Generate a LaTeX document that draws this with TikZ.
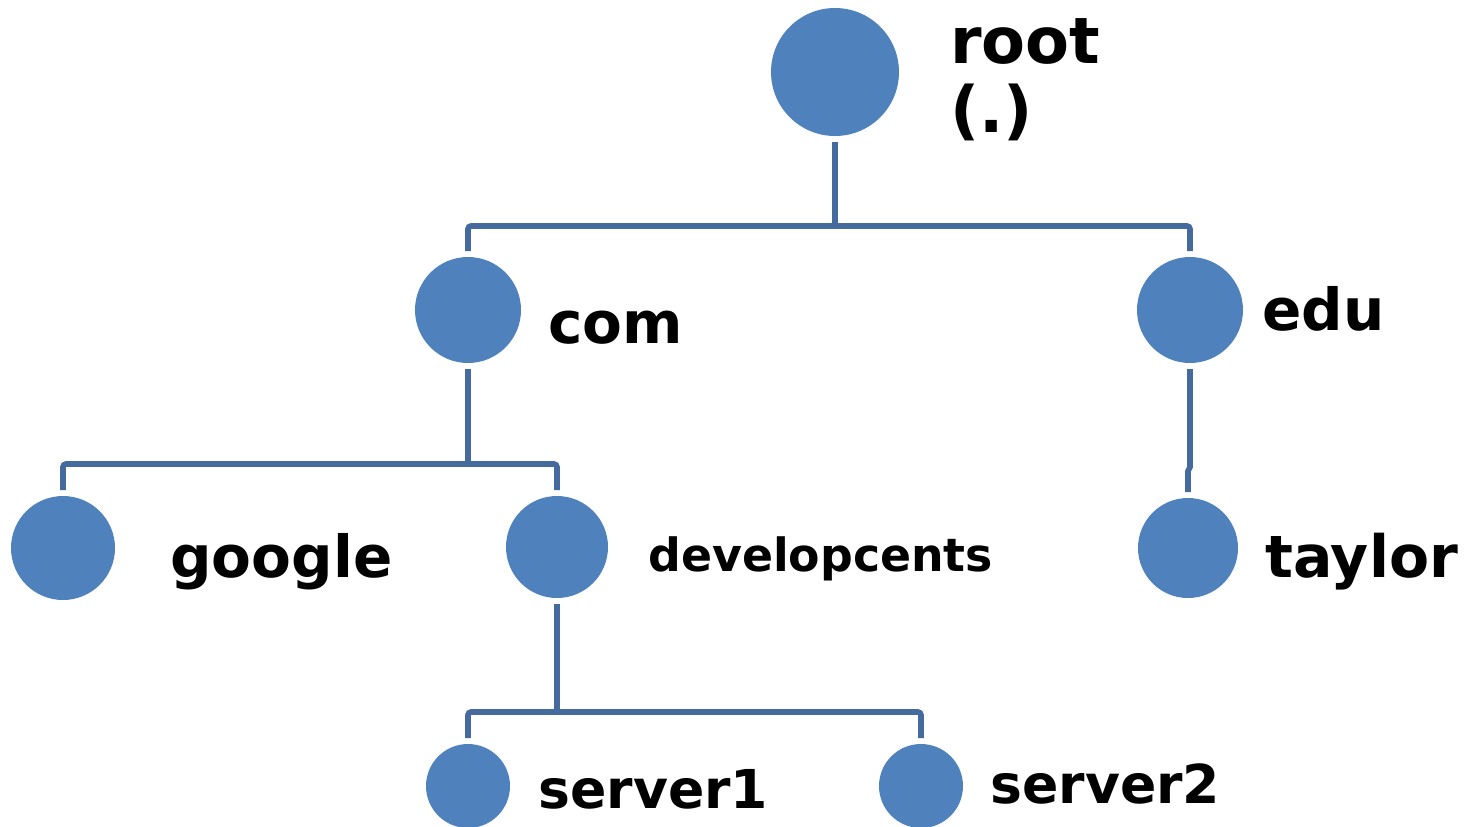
\documentclass[tikz,border=0pt]{standalone}
\usepackage{fontspec}
\setmainfont{DejaVu Sans}
\definecolor{dnsblue}{RGB}{79,129,189}
\definecolor{linkblue}{RGB}{68,106,158}

\begin{document}
\begin{tikzpicture}[x=0.5pt, y=-0.5pt,
  zone/.style={circle, fill=dnsblue, inner sep=0, outer sep=3pt},
  link/.style={linkblue, line width=2.8pt, rounded corners=1.5pt},
  lbl/.style={inner sep=0, anchor=base west}]
  \useasboundingbox (0,0) rectangle (1464,826);
  % zones
  \node[zone, minimum size=64pt] (root) at (835,72) {};
  \node[zone, minimum size=53pt] (com) at (468,310) {};
  \node[zone, minimum size=53pt] (edu) at (1190,310) {};
  \node[zone, minimum size=52pt] (google) at (63,548) {};
  \node[zone, minimum size=51pt] (devel) at (557,547) {};
  \node[zone, minimum size=50pt] (taylor) at (1188,548) {};
  \node[zone, minimum size=42pt] (server1) at (468,786) {};
  \node[zone, minimum size=42pt] (server2) at (921,786) {};
  % labels
  \node[lbl, align=left, font=\bfseries\fontsize{32}{34.5}\selectfont] (rootlbl) at (950,132) {root\\(.)};
  \node[lbl, font=\bfseries\fontsize{29}{30}\selectfont] (comlbl) at (548,343) {com};
  \node[lbl, font=\bfseries\fontsize{29}{30}\selectfont] (edulbl) at (1262,330) {edu};
  \node[lbl, font=\bfseries\fontsize{29}{30}\selectfont] (googlelbl) at (170,577) {google};
  \node[lbl, font=\bfseries\fontsize{22.9}{24}\selectfont] (devellbl) at (648,571) {developcents};
  \node[lbl, font=\bfseries\fontsize{29.2}{30}\selectfont] (taylorlbl) at (1265,577) {taylor};
  \node[lbl, font=\bfseries\fontsize{26.8}{28}\selectfont] (server1lbl) at (538,808) {server1};
  \node[lbl, font=\bfseries\fontsize{26.8}{28}\selectfont] (server2lbl) at (990,803) {server2};
  % branches
  \coordinate (rootbar) at (835,226);
  \coordinate (combar) at (468,464);
  \coordinate (edubar) at (1190,467);
  \coordinate (develbar) at (557,712);
  \draw[link] (root.south) -- (rootbar);
  \draw[link] (com.north) |- (rootbar) -| (edu.north);
  \draw[link] (com.south) -- (combar);
  \draw[link] (google.north) |- (combar) -| (devel.north);
  \draw[link, sharp corners] (edu.south) -- (edubar) -- (taylor.north |- 0,471) -- (taylor.north);
  \draw[link] (devel.south) -- (develbar);
  \draw[link] (server1.north) |- (develbar) -| (server2.north);
\end{tikzpicture}
\end{document}
